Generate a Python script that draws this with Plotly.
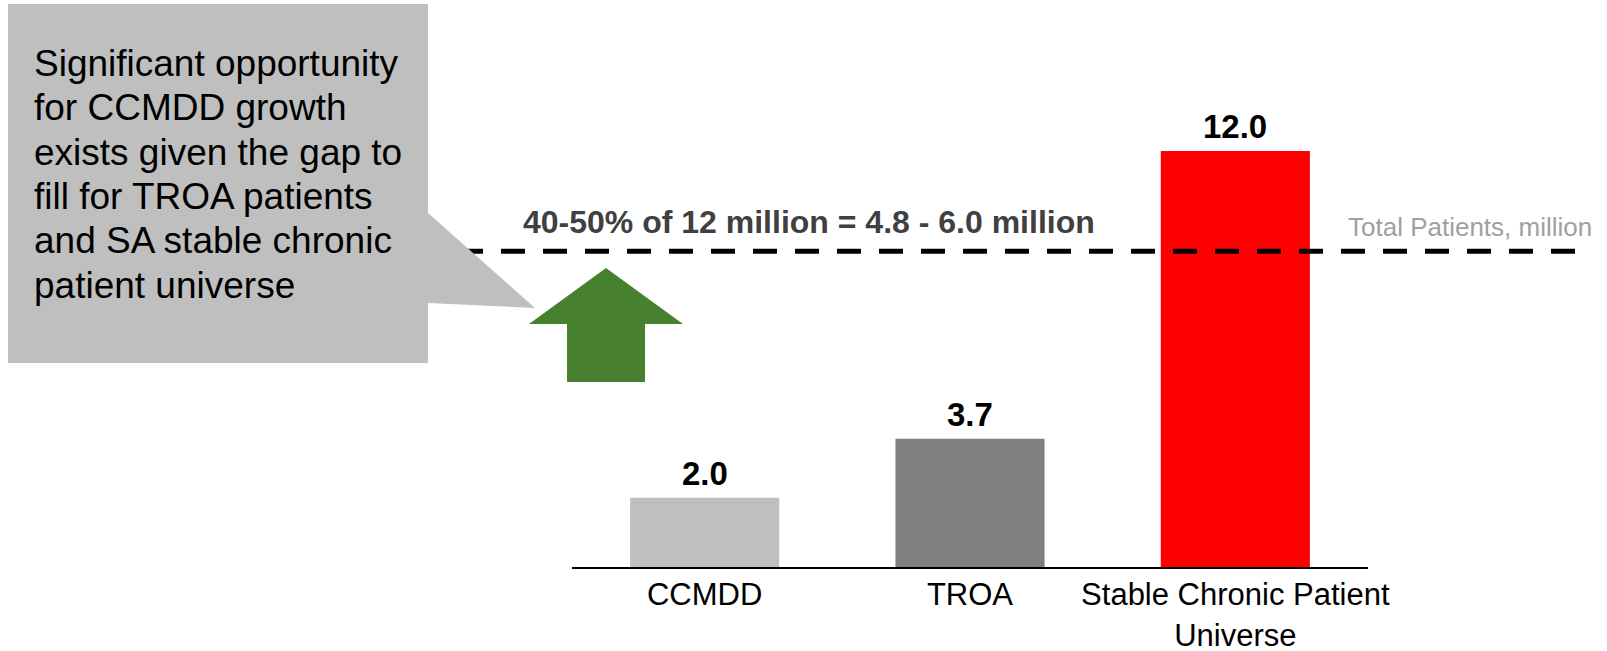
import plotly.graph_objects as go

# ---- data ----
categories = ["CCMDD", "TROA", "Stable Chronic Patient<br>Universe"]
values = [2.0, 3.7, 12.0]
value_labels = ["2.0", "3.7", "12.0"]
bar_colors = ["#BFBFBF", "#808080", "#FF0000"]
reference_level = 9.11
reference_label = "40-50% of 12 million = 4.8 - 6.0 million"
reference_legend = "Total Patients, million"
callout_lines = [
    "Significant opportunity",
    "for CCMDD growth",
    "exists given the gap to",
    "fill for TROA patients",
    "and SA stable chronic",
    "patient universe",
]

W, H = 1607, 651
L, R, T, B = 572, 1368, 0, 567   # plot area in pixels
Y_MAX = 16.355


def px(x):
    return (x - L) / (R - L)


def py(y):
    return (B - y) / (B - T)


fig = go.Figure()
fig.add_trace(go.Bar(
    x=categories, y=values, marker=dict(color=bar_colors, line=dict(width=0)),
    width=0.562, hoverinfo="skip", showlegend=False,
))

shapes = []
# dashed reference line
shapes.append(dict(type="line", xref="paper", yref="y", x0=px(459), x1=px(1590),
                   y0=reference_level, y1=reference_level,
                   line=dict(color="black", width=5, dash="24px,18px"), layer="above"))
# callout box with pointer
pts = [(8, 4), (428, 4), (428, 213), (535, 308), (428, 303), (428, 363), (8, 363)]
path = "M " + " L ".join(f"{px(a):.5f},{py(b):.5f}" for a, b in pts) + " Z"
shapes.append(dict(type="path", xref="paper", yref="paper", path=path,
                   fillcolor="#BFBFBF", line=dict(width=0), layer="above"))
# green up arrow
apts = [(567, 382), (567, 324), (529, 324), (606, 268), (683, 324), (645, 324), (645, 382)]
apath = "M " + " L ".join(f"{px(a):.5f},{py(b):.5f}" for a, b in apts) + " Z"
shapes.append(dict(type="path", xref="paper", yref="paper", path=apath,
                   fillcolor="#47802F", line=dict(width=0), layer="above"))

annotations = []
sans = "Liberation Sans, Arial"
baselines = [76, 120, 165, 209, 253, 298]
for line, bl in zip(callout_lines, baselines):
    annotations.append(dict(text=line, xref="paper", yref="paper", x=px(32), y=py(bl - 13),
                            xanchor="left", yanchor="middle", showarrow=False,
                            font=dict(family=sans, size=37, color="black")))
annotations.append(dict(text=f"<b>{reference_label}</b>", xref="paper", yref="paper",
                        x=px(521), y=py(233 - 11), xanchor="left", yanchor="middle",
                        showarrow=False,
                        font=dict(family=sans, size=32, color="#404040")))
annotations.append(dict(text=reference_legend, xref="paper", yref="paper",
                        x=px(1346), y=py(237 - 10), xanchor="left", yanchor="middle",
                        showarrow=False,
                        font=dict(family=sans, size=26, color="#A0A0A0")))
for c, v, t in zip(categories, values, value_labels):
    annotations.append(dict(text=f"<b>{t}</b>", x=c, y=v, xref="x", yref="y",
                            yanchor="middle", yshift=24.5, showarrow=False,
                            font=dict(family=sans, size=33, color="black")))

fig.update_layout(
    width=W, height=H,
    margin=dict(l=L, r=W - R, t=T, b=H - B, pad=0, autoexpand=False),
    paper_bgcolor="white", plot_bgcolor="white",
    bargap=0.438,
    shapes=shapes, annotations=annotations,
    xaxis=dict(showline=True, linecolor="black", linewidth=2, showgrid=False,
               zeroline=False, ticks="", range=[-0.5, 2.5], automargin=False,
               ticklabelstandoff=-1,
               tickfont=dict(family=sans, size=31, color="black")),
    yaxis=dict(visible=False, range=[0, Y_MAX], showgrid=False, zeroline=False,
               automargin=False),
)

fig.write_html("out.html")
